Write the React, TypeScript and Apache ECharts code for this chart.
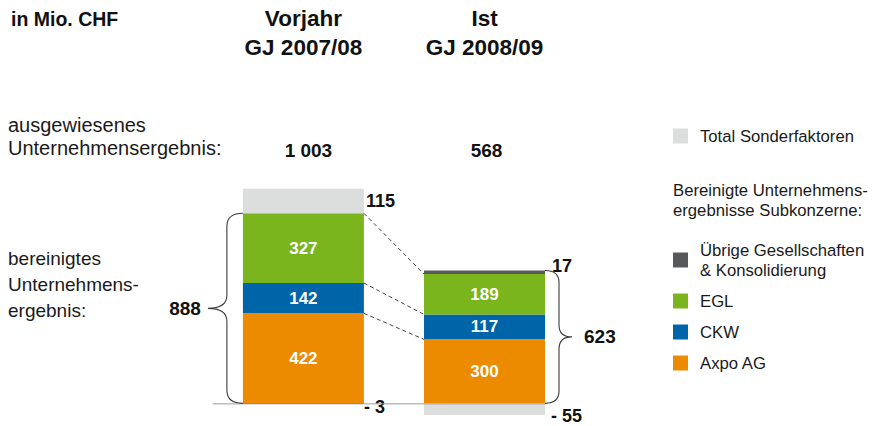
import React, { useEffect, useRef } from 'react';
import * as echarts from 'echarts';

// ---- data ----
const CATEGORIES = ['Vorjahr\nGJ 2007/08', 'Ist\nGJ 2008/09'];
const AXPO = [422, 300];
const CKW = [142, 117];
const EGL = [327, 189];
const UEBRIGE = [-3, 17];
const SONDER = [115, -55];

const NAME_AXPO = 'Axpo AG';
const NAME_CKW = 'CKW';
const NAME_EGL = 'EGL';
const NAME_UEBRIGE = 'Übrige Gesellschaften & Konsolidierung';
const NAME_SONDER = 'Total Sonderfaktoren';

// ---- styling ----
const FONT = "'Liberation Sans', Arial, Helvetica, sans-serif";
const BAR_WIDTH = 121;
const C_AXPO = '#ED8B00';
const C_CKW = '#0064A8';
const C_EGL = '#7AB51D';
const C_UEBRIGE = '#58595B';
const C_SONDER = '#DCDDDD';
const TXT = '#1a1a1a';

const fmtThousands = (n: number) => String(n).replace(/\B(?=(\d{3})+(?!\d))/g, ' ');
const fmtSigned = (n: number) => (n < 0 ? '- ' + Math.abs(n) : String(n));

const adjusted = (i: number) => AXPO[i] + CKW[i] + EGL[i] + UEBRIGE[i];
const total = (i: number) => adjusted(i) + SONDER[i];
const positiveTop = (i: number) =>
  [AXPO[i], CKW[i], EGL[i], UEBRIGE[i]].filter((v) => v > 0).reduce((a, b) => a + b, 0);

const insideLabel = {
  show: true,
  position: 'inside',
  color: '#ffffff',
  fontSize: 17,
  fontWeight: 'bold',
  fontFamily: FONT,
};

const outside = (v: number, dist: number, dy: number) => ({
  value: v,
  label: {
    show: true,
    position: 'right',
    distance: dist,
    offset: [0, dy],
    color: '#111',
    fontSize: 18,
    fontWeight: 'bold',
    fontFamily: FONT,
    formatter: () => fmtSigned(v),
  },
});

function bracePath(xE: number, yT: number, yB: number, dir: number, vOff: number, tOff: number, r: number) {
  const xV = xE + dir * vOff;
  const xT = xE + dir * tOff;
  const yM = (yT + yB) / 2;
  return (
    `M${xE},${yT} Q${xV},${yT} ${xV},${yT + r} L${xV},${yM - r} ` +
    `Q${xV},${yM} ${xT},${yM} Q${xV},${yM} ${xV},${yM + r} ` +
    `L${xV},${yB - r} Q${xV},${yB} ${xE},${yB}`
  );
}

export default function App() {
  const ref = useRef<HTMLDivElement>(null);

  useEffect(() => {
    if (!ref.current) return;
    const chart = echarts.init(ref.current, undefined, { renderer: 'svg' });

    const barBase = {
      type: 'bar',
      stack: 'total',
      barWidth: BAR_WIDTH,
      xAxisIndex: 0,
      yAxisIndex: 0,
    };

    const option: any = {
      animation: false,
      textStyle: { fontFamily: FONT },
      grid: { left: 212.85, width: 362.2, top: 168.7, height: 256 },
      xAxis: [
        {
          type: 'category',
          data: CATEGORIES,
          position: 'top',
          axisLine: { show: false },
          axisTick: { show: false },
          splitLine: { show: false },
          axisLabel: {
            interval: 0,
            margin: 107,
            fontSize: 22.5,
            fontWeight: 'bold',
            lineHeight: 28.5,
            color: '#111',
            fontFamily: FONT,
          },
        },
      ],
      yAxis: [{ type: 'value', min: -100, max: 1100, show: false, splitLine: { show: false } }],
      legend: [
        {
          data: [NAME_SONDER],
          orient: 'vertical',
          left: 673,
          top: 126,
          padding: 0,
          icon: 'rect',
          itemWidth: 15,
          itemHeight: 15,
          selectedMode: false,
          textStyle: { fontSize: 16.7, lineHeight: 20, color: TXT, fontFamily: FONT, padding: [0, 0, 0, 7] },
        },
        {
          data: [NAME_UEBRIGE, NAME_EGL, NAME_CKW, NAME_AXPO],
          orient: 'vertical',
          left: 673,
          top: 240,
          padding: 0,
          icon: 'rect',
          itemWidth: 15,
          itemHeight: 15,
          itemGap: 11,
          selectedMode: false,
          formatter: (name: string) =>
            name === NAME_UEBRIGE ? 'Übrige Gesellschaften\n& Konsolidierung' : name,
          textStyle: { fontSize: 16.7, lineHeight: 20, color: TXT, fontFamily: FONT, padding: [0, 0, 0, 7] },
        },
      ],
      graphic: [
        {
          type: 'text',
          left: 11,
          top: 9,
          style: { text: 'in Mio. CHF', font: `bold 19.5px ${FONT}`, fill: '#111' },
        },
        {
          type: 'text',
          left: 8,
          top: 113.5,
          style: {
            text: 'ausgewiesenes\nUnternehmensergebnis:',
            font: `20px ${FONT}`,
            lineHeight: 23,
            fill: TXT,
          },
        },
        {
          type: 'text',
          left: 8,
          top: 245,
          style: {
            text: 'bereinigtes\nUnternehmens-\nergebnis:',
            font: `19px ${FONT}`,
            lineHeight: 26,
            fill: TXT,
          },
        },
        {
          type: 'text',
          left: 673,
          top: 180,
          style: {
            text: 'Bereinigte Unternehmens-\nergebnisse Subkonzerne:',
            font: `16.7px ${FONT}`,
            lineHeight: 20,
            fill: TXT,
          },
        },
      ],
      series: [
        {
          ...barBase,
          name: NAME_AXPO,
          data: AXPO,
          itemStyle: { color: C_AXPO },
          label: insideLabel,
        },
        {
          ...barBase,
          name: NAME_CKW,
          data: CKW,
          itemStyle: { color: C_CKW },
          label: insideLabel,
        },
        {
          ...barBase,
          name: NAME_EGL,
          data: EGL,
          itemStyle: { color: C_EGL },
          label: insideLabel,
        },
        {
          ...barBase,
          name: NAME_UEBRIGE,
          data: UEBRIGE.map((v) => (v < 0 ? outside(v, 0, 3) : outside(v, 7, -6))),
          itemStyle: { color: C_UEBRIGE },
        },
        {
          ...barBase,
          name: NAME_SONDER,
          data: SONDER.map((v) => (v < 0 ? outside(v, 6, 7) : outside(v, 2, 0))),
          itemStyle: { color: C_SONDER },
        },
        {
          type: 'custom',
          name: 'annotations',
          z: 5,
          clip: false,
          silent: true,
          data: CATEGORIES.map((_, i) => [i, 0]),
          encode: { x: 0, y: 1 },
          renderItem: (params: any, api: any) => {
            const i = api.value(0) as number;
            const [cx, y0] = api.coord([i, 0]);
            const half = BAR_WIDTH / 2;
            const cs = params.coordSys;
            const yTop = api.coord([i, positiveTop(i)])[1];
            const yMid = (yTop + y0) / 2;
            const children: any[] = [];

            children.push({
              type: 'text',
              x: cx + (i === 0 ? 5 : 2),
              y: cs.y - 18.7,
              style: {
                text: fmtThousands(total(i)),
                align: 'center',
                verticalAlign: 'middle',
                font: `bold 19px ${FONT}`,
                fill: '#111',
              },
            });

            if (i === 0) {
              const cxLast = api.coord([CATEGORIES.length - 1, 0])[0];
              children.push({
                type: 'line',
                shape: { x1: cs.x, y1: y0 + 0.5, x2: cxLast + half, y2: y0 + 0.5 },
                style: { stroke: '#9c9c9c', lineWidth: 1 },
              });
              const levels = [
                [AXPO[0], AXPO[1]],
                [AXPO[0] + CKW[0], AXPO[1] + CKW[1]],
                [AXPO[0] + CKW[0] + EGL[0], AXPO[1] + CKW[1] + EGL[1]],
              ];
              levels.forEach(([a, b]) => {
                const p1 = api.coord([0, a]);
                const p2 = api.coord([1, b]);
                children.push({
                  type: 'line',
                  shape: { x1: p1[0] + half, y1: p1[1], x2: p2[0] - half, y2: p2[1] },
                  style: { stroke: '#444', lineWidth: 1, lineDash: [4, 3] },
                });
              });
              const xE = cx - half;
              children.push({
                type: 'path',
                shape: { pathData: bracePath(xE, yTop, y0, -1, 16, 35, 13) },
                style: { stroke: '#3a3a3a', lineWidth: 1.1, fill: 'none' },
              });
              children.push({
                type: 'text',
                x: xE - 42,
                y: yMid,
                style: {
                  text: String(adjusted(i)),
                  align: 'right',
                  verticalAlign: 'middle',
                  font: `bold 19px ${FONT}`,
                  fill: '#111',
                },
              });
            } else {
              const xE = cx + half;
              children.push({
                type: 'path',
                shape: { pathData: bracePath(xE, yTop, y0, 1, 14, 27, 12) },
                style: { stroke: '#3a3a3a', lineWidth: 1.1, fill: 'none' },
              });
              children.push({
                type: 'text',
                x: xE + 39,
                y: yMid,
                style: {
                  text: String(adjusted(i)),
                  align: 'left',
                  verticalAlign: 'middle',
                  font: `bold 19px ${FONT}`,
                  fill: '#111',
                },
              });
            }
            return { type: 'group', children };
          },
        },
      ],
    };

    chart.setOption(option);
    return () => chart.dispose();
  }, []);

  return <div ref={ref} style={{ width: 874, height: 426, position: 'absolute', left: 0, top: 0 }} />;
}
